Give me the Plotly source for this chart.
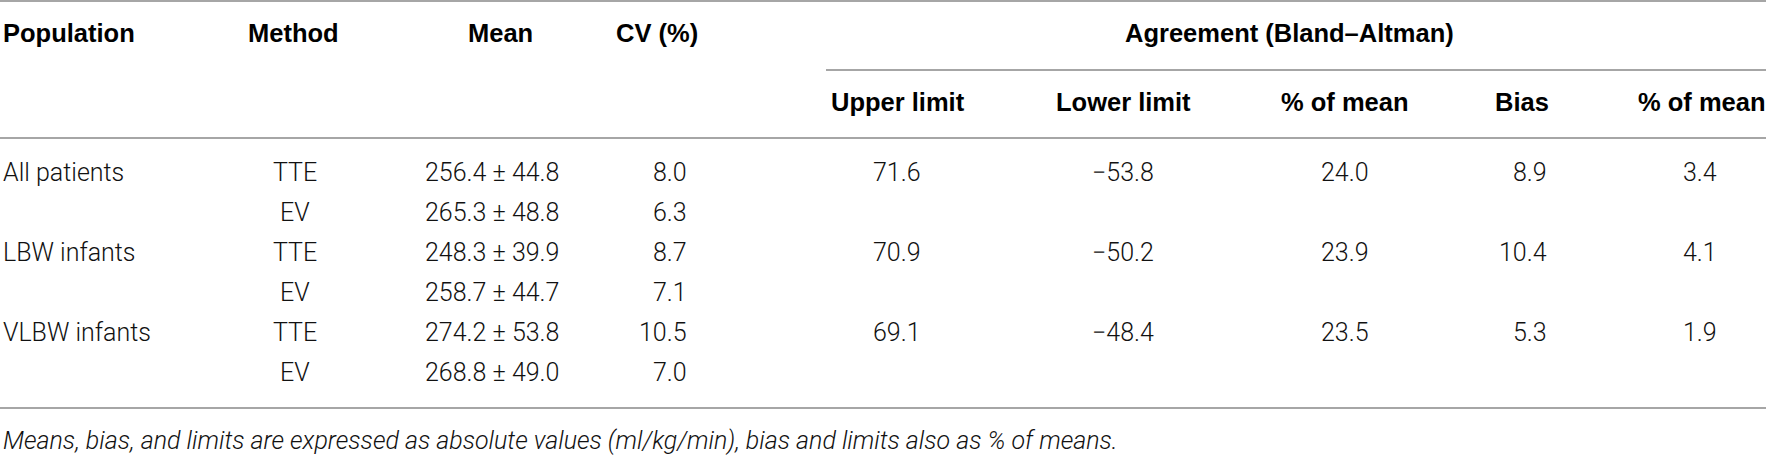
import plotly.graph_objects as go

# table content
population = ["All patients", "", "LBW infants", "", "VLBW infants", ""]
method = ["TTE", "EV", "TTE", "EV", "TTE", "EV"]
mean = [256.4, 265.3, 248.3, 258.7, 274.2, 268.8]
sd = [44.8, 48.8, 39.9, 44.7, 53.8, 49.0]
cv = [8.0, 6.3, 8.7, 7.1, 10.5, 7.0]
upper_limit = [71.6, None, 70.9, None, 69.1, None]
lower_limit = [-53.8, None, -50.2, None, -48.4, None]
limit_pct = [24.0, None, 23.9, None, 23.5, None]
bias = [8.9, None, 10.4, None, 5.3, None]
bias_pct = [3.4, None, 4.1, None, 1.9, None]

top_headers = ["Population", "Method", "Mean", "CV (%)"]
group_header = "Agreement (Bland\u2013Altman)"
sub_headers = ["Upper limit", "Lower limit", "% of mean", "Bias", "% of mean"]
footnote = ("Means, bias, and limits are expressed as absolute values (ml/kg/min), "
            "bias and limits also as % of means.")

W, H = 1766, 456
HEAD_FONT = dict(family="Liberation Sans, Arial, sans-serif", size=25.5, color="#000000", weight="bold")
BODY_FONT = dict(family="Roboto, Liberation Sans, sans-serif", size=25, color="#111111", weight=300)
NOTE_FONT = dict(family="Roboto, Liberation Sans, sans-serif", size=25, color="#111111", weight=300, style="italic")
LINE = "#a6a6a6"


def num(v):
    if v is None:
        return ""
    s = f"{abs(v):.1f}"
    return ("\u2212" + s) if v < 0 else s


fig = go.Figure()
ann = []


def put(x, y, text, anchor, font):
    ann.append(dict(x=x, y=y, xref="x", yref="y", text=text, showarrow=False,
                    xanchor=anchor, yanchor="middle", font=font))


# header row 1
put(1, 33, top_headers[0], "left", HEAD_FONT)
put(293, 33, top_headers[1], "center", HEAD_FONT)
put(500, 33, top_headers[2], "center", HEAD_FONT)
put(657, 33, top_headers[3], "center", HEAD_FONT)
put(1289, 33, group_header, "center", HEAD_FONT)

# header row 2
sub_x = [898, 1123, 1345, 1522, 1702]
for x, t in zip(sub_x, sub_headers):
    put(x, 102, t, "center", HEAD_FONT)

# body rows
for i in range(len(method)):
    y = 172 + 40 * i
    put(1, y, population[i], "left", BODY_FONT)
    put(295, y, method[i], "center", BODY_FONT)
    put(492, y, f"{mean[i]:.1f} \u00b1 {sd[i]:.1f}", "center", BODY_FONT)
    put(689, y, num(cv[i]), "right", BODY_FONT)
    put(897, y, num(upper_limit[i]), "center", BODY_FONT)
    put(1123, y, num(lower_limit[i]), "center", BODY_FONT)
    put(1345, y, num(limit_pct[i]), "center", BODY_FONT)
    put(1549, y, num(bias[i]), "right", BODY_FONT)
    put(1700, y, num(bias_pct[i]), "center", BODY_FONT)

put(1, 440, footnote, "left", NOTE_FONT)

shapes = [
    dict(type="line", x0=0, x1=W, y0=1, y1=1, line=dict(color=LINE, width=2)),
    dict(type="line", x0=826, x1=W, y0=70, y1=70, line=dict(color=LINE, width=2)),
    dict(type="line", x0=0, x1=W, y0=138, y1=138, line=dict(color=LINE, width=2)),
    dict(type="line", x0=0, x1=W, y0=408, y1=408, line=dict(color=LINE, width=2)),
]
for s in shapes:
    s.update(xref="x", yref="y")

fig.update_layout(
    width=W, height=H,
    margin=dict(l=0, r=0, t=0, b=0),
    paper_bgcolor="white", plot_bgcolor="white",
    xaxis=dict(range=[0, W], visible=False, fixedrange=True),
    yaxis=dict(range=[H, 0], visible=False, fixedrange=True),
    annotations=ann, shapes=shapes, showlegend=False,
)

fig.write_html("out.html", config={"displayModeBar": False},
               post_script="document.body.style.margin='0';document.body.style.overflow='hidden';")
